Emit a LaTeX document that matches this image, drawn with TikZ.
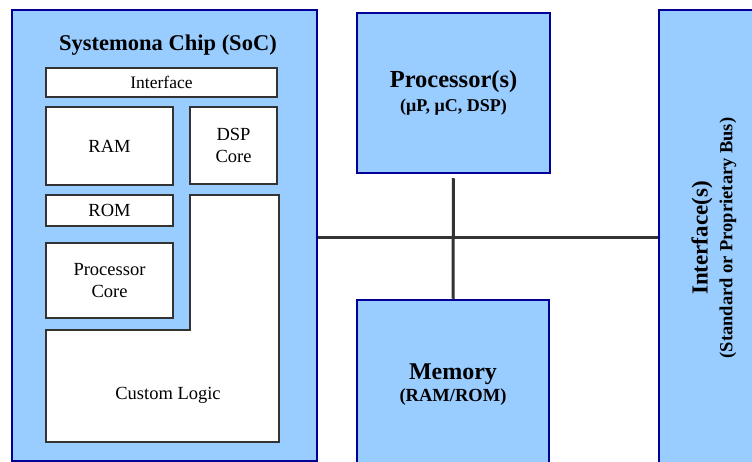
\documentclass[tikz,border=0pt]{standalone}
\usepackage{fontspec}
\setmainfont{Liberation Serif}
\usepackage{tikz}

\definecolor{chipblue}{HTML}{99CCFF}
\definecolor{chipedge}{HTML}{000099}
\definecolor{wiregray}{HTML}{333333}

\tikzset{
  bluebox/.style={draw=chipedge, fill=chipblue, line width=2.5pt, inner sep=0pt, align=center, font=\bfseries},
  whitebox/.style={draw=wiregray, fill=white, line width=1.5pt, inner sep=0pt, align=center, font=\fontsize{18.5}{22.5}\selectfont},
  bus/.style={draw=wiregray, line width=3pt}
}

\begin{document}
\begin{tikzpicture}[x=1pt,y=-1pt]
\useasboundingbox (0,0) rectangle (752,462);

% the chip and its parts
\node[bluebox, minimum width=305pt, minimum height=451pt] (soc) at (164.5,235.5) {};
\node[font=\bfseries\fontsize{22.5}{26}\selectfont] (soctitle) at (168,45) {Systemona Chip (SoC)};
\node[whitebox, font=\fontsize{17.5}{21}\selectfont, minimum width=231pt, minimum height=29pt] (ifc) at (161.5,82.5) {Interface};
\node[whitebox, minimum width=127pt, minimum height=78pt] (ram) at (109.5,146) {RAM};
\node[whitebox, minimum width=87pt, minimum height=77pt] (dsp) at (233.5,145.5) {DSP\\Core};
\node[whitebox, minimum width=127pt, minimum height=31pt] (rom) at (109.5,210.5) {ROM};
\node[whitebox, minimum width=127pt, minimum height=75pt] (pcore) at (109.5,280.5) {Processor\\Core};
\draw[draw=wiregray, fill=white, line width=1.5pt]
  (190,195) -- (279,195) -- (279,442) -- (46,442) -- (46,330) -- (190,330) -- cycle;
\node[font=\fontsize{18.5}{22}\selectfont] (logic) at (168,395) {Custom Logic};

% processor, memory and interface
\node[bluebox, minimum width=193pt, minimum height=160pt] (proc) at (453.5,93)
  {{\fontsize{24.5}{28}\selectfont Processor(s)}\\[5pt]{\fontsize{18}{20}\selectfont (μP, μC, DSP)}};
\node[bluebox, minimum width=192pt, minimum height=169pt] (mem) at (453,384.5)
  {{\fontsize{24}{28}\selectfont Memory}\\[3pt]{\fontsize{18.5}{20}\selectfont (RAM/ROM)}};
\node[bluebox, rotate=90, minimum width=456pt, minimum height=110pt] (iface) at (714,238)
  {{\fontsize{23}{26}\selectfont Interface(s)}\\[6pt]{\fontsize{18.5}{20}\selectfont (Standard or Proprietary Bus)}};

% the bus
\coordinate (hub) at (454,238);
\draw[bus] (soc.east |- hub) -- (iface.north |- hub);
\draw[bus, shorten <=4pt] (proc.south) -- (mem.north);
\end{tikzpicture}
\end{document}
